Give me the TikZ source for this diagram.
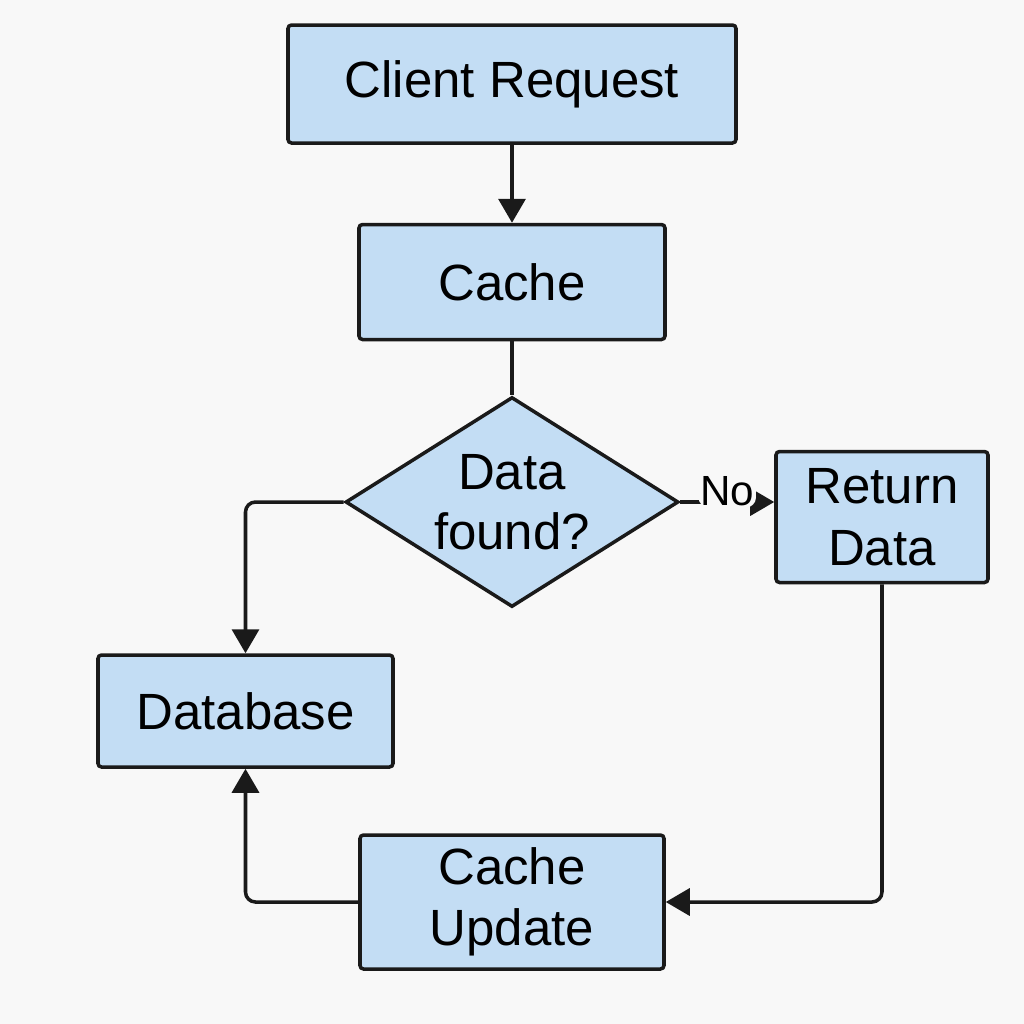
\documentclass[tikz,border=0pt]{standalone}
\usepackage{fontspec}
\setmainfont{Liberation Sans}
\usepackage{xcolor}
\usetikzlibrary{shapes, arrows.meta, positioning, calc}

\definecolor{boxblue}{HTML}{C3DDF4}
\definecolor{bgray}{HTML}{F8F8F8}
\definecolor{ink}{HTML}{1A1A1A}

\begin{document}
\begin{tikzpicture}[
            box/.style={rectangle, draw=ink, fill=boxblue, line width=2pt, rounded corners=2pt,
                align=center, font=\fontsize{29}{35}\selectfont},
            decision/.style={diamond, aspect=1.586, draw=ink, fill=boxblue, line width=2pt, inner sep=0pt,
                align=center, font=\fontsize{29}{34}\selectfont},
            flow/.style={draw=ink, line width=2pt, rounded corners=0.2cm},
            arr/.style={flow, -{Triangle[length=0.48cm, width=0.54cm]}}
        ]
        \fill[bgray] (0,0) rectangle (20.48,-20.48);

        \node[box, minimum width=8.96cm, minimum height=2.36cm] (client) at (10.24,-1.68) {Client Request};
        \node[box, minimum width=6.12cm, minimum height=2.3cm] (cache) at (10.24,-5.64) {Cache};
        \node[decision, minimum width=6.66cm, minimum height=4.2cm, text depth=0pt] (found) at (10.24,-10.04) {Data\\found?};
        \node[box, minimum width=4.24cm, minimum height=2.62cm] (ret) at (17.64,-10.34) {Return\\Data};
        \node[box, minimum width=5.9cm, minimum height=2.24cm] (db) at (4.91,-14.22) {Database};
        \node[box, minimum width=6.08cm, minimum height=2.68cm] (upd) at (10.24,-18.04) {Cache\\Update};

        % Main flow
        \draw[arr] (client) -- (cache);
        \draw[flow] (cache) -- (found);
        \draw[arr] (found.east) -- node[fill=bgray, inner sep=1pt, yshift=0.22cm,
            font=\fontsize{24}{28}\selectfont] {No} (found.east -| ret.west);
        \draw[arr] (found.west) -| (db.north);

        % Update loop
        \draw[arr] (ret.south) |- (upd.east);
        \draw[arr] (upd.west) -| (db.south);

    \end{tikzpicture}
\end{document}
